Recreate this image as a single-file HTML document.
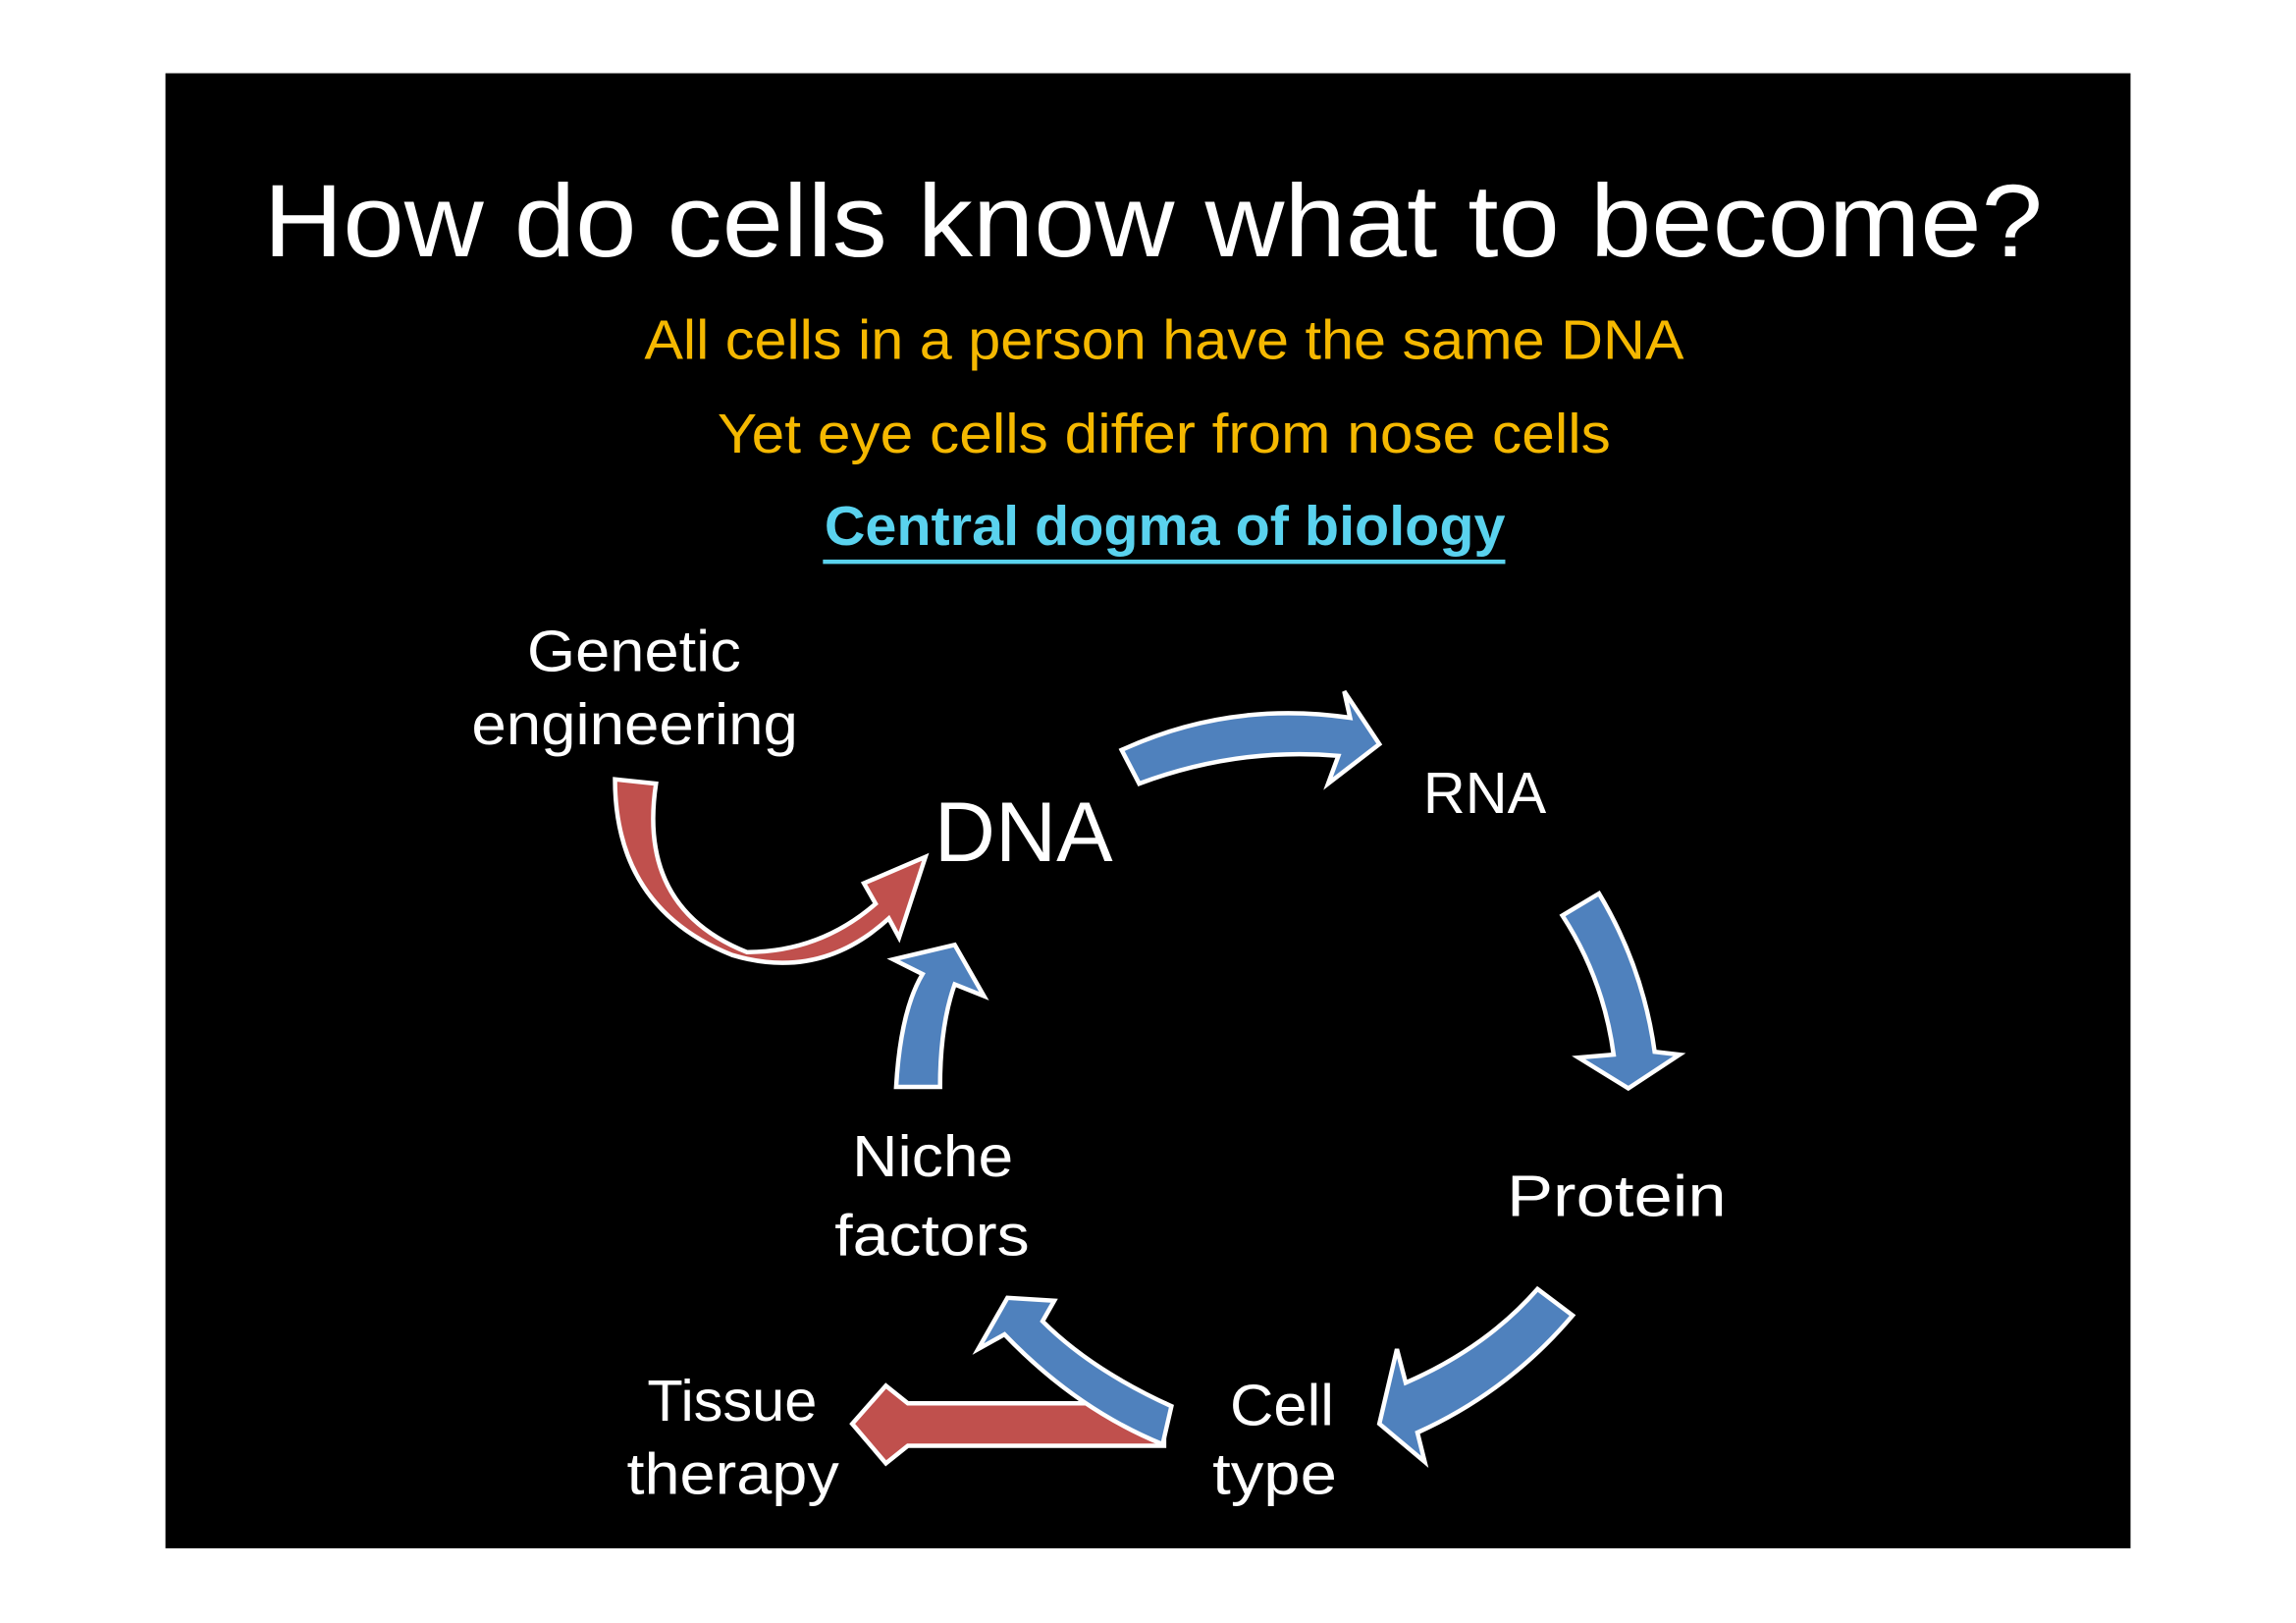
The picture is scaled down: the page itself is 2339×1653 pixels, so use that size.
<!DOCTYPE html>
<html><head><meta charset="utf-8"><style>
html,body{margin:0;padding:0;background:#fff;}
svg{display:block;}
text{font-family:"Liberation Sans",sans-serif;}
</style></head><body>
<svg width="2339" height="1653" viewBox="0 0 1568 1108" preserveAspectRatio="none" xmlns="http://www.w3.org/2000/svg">
<rect x="0" y="0" width="1568" height="1108" fill="#fff"/>
<rect x="113" y="50" width="1342" height="1007" fill="#000"/>
<text x="180" y="175" font-size="70" fill="#fff" textLength="1215" lengthAdjust="spacingAndGlyphs">How do cells know what to become?</text>
<text x="440" y="245" font-size="38" fill="#f5b800" textLength="710" lengthAdjust="spacingAndGlyphs">All cells in a person have the same DNA</text>
<text x="490" y="309" font-size="38" fill="#f5b800" textLength="610" lengthAdjust="spacingAndGlyphs">Yet eye cells differ from nose cells</text>
<text x="563" y="372" font-size="38" font-weight="bold" fill="#5ad2ee" textLength="465" lengthAdjust="spacingAndGlyphs">Central dogma of biology</text>
<rect x="562" y="382" width="466" height="3" fill="#5ad2ee"/>

<g stroke="#fff" stroke-width="3" stroke-linejoin="miter">
<path d="M795,958 L620,958 L605,946 L582,972 L605,999 L620,987 L795,987 Z" fill="#c0504d"/>
<path d="M420,532 L448,535 Q435,620 510,650 Q560,650 598,617 L590,603 L632,585 L614,640 L607,627 Q560,670 500,652 Q420,620 420,532 Z" fill="#c0504d"/>
<path d="M766,512 Q840,478 922,490 L918,472 L942,508 L907,535 L914,516 Q845,510 778,535 Z" fill="#4f81bd"/>
<path d="M1067,625 L1092,610 Q1122,660 1130,718 L1147,720 L1112,743 L1078,722 L1102,720 Q1095,668 1067,625 Z" fill="#4f81bd"/>
<path d="M1050,880 L1074,898 Q1030,950 968,978 L973,998 L942,972 L954,921 L960,944 Q1015,920 1050,880 Z" fill="#4f81bd"/>
<path d="M800,960 Q745,935 712,902 L720,888 L688,886 L668,921 L686,911 Q735,962 794,986 Z" fill="#4f81bd"/>
<path d="M612,742 Q615,690 630,665 L610,655 L652,645 L672,680 L652,672 Q642,700 642,742 Z" fill="#4f81bd"/>
</g>

<g fill="#fff" font-size="40">
<text x="360" y="458" textLength="146" lengthAdjust="spacingAndGlyphs">Genetic</text>
<text x="322" y="508" textLength="223" lengthAdjust="spacingAndGlyphs">engineering</text>
<text x="638" y="588" font-size="58" textLength="122" lengthAdjust="spacingAndGlyphs">DNA</text>
<text x="972" y="555" textLength="84" lengthAdjust="spacingAndGlyphs">RNA</text>
<text x="1029" y="830" textLength="150" lengthAdjust="spacingAndGlyphs">Protein</text>
<text x="582" y="803" textLength="110" lengthAdjust="spacingAndGlyphs">Niche</text>
<text x="570" y="857" textLength="133" lengthAdjust="spacingAndGlyphs">factors</text>
<text x="840" y="973" textLength="71" lengthAdjust="spacingAndGlyphs">Cell</text>
<text x="828" y="1020" textLength="85" lengthAdjust="spacingAndGlyphs">type</text>
<text x="442" y="970" textLength="116" lengthAdjust="spacingAndGlyphs">Tissue</text>
<text x="428" y="1020" textLength="145" lengthAdjust="spacingAndGlyphs">therapy</text>
</g>
</svg>
</body></html>
